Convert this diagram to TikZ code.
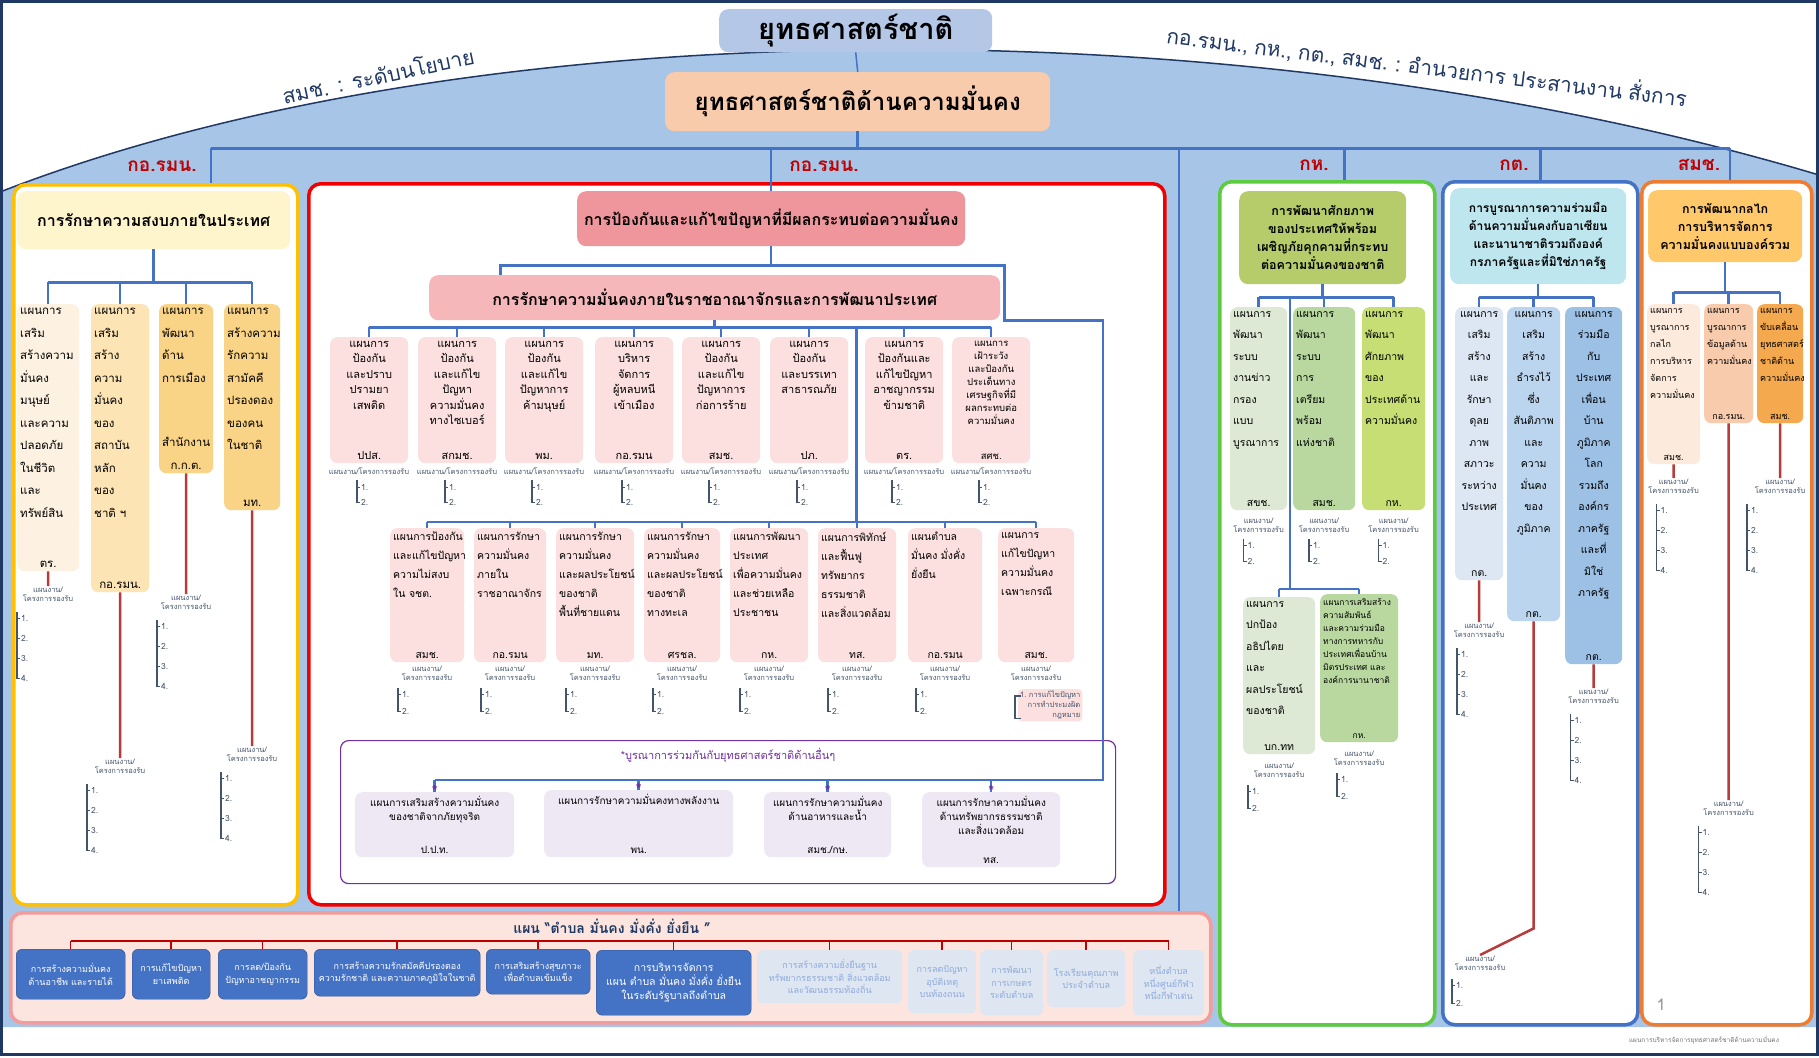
\documentclass[tikz,border=0pt]{standalone}
\usepackage{fontspec}
\setmainfont{Loma}[Script=Thai]
\definecolor{navy}{HTML}{203864}
\definecolor{dome}{HTML}{A7C5E7}
\definecolor{lineblue}{HTML}{4472C4}
\definecolor{stemred}{HTML}{B83B3B}
\definecolor{headred}{HTML}{C00000}
\definecolor{brkc}{HTML}{44546A}
\definecolor{gold}{HTML}{FFC000}
\definecolor{redf}{HTML}{F00000}
\definecolor{greenf}{HTML}{5DCB3E}
\definecolor{orangef}{HTML}{ED7D31}
\definecolor{purp}{HTML}{7030A0}
\definecolor{titlef}{HTML}{B4C7E7}
\definecolor{secf}{HTML}{F8CBAD}
\definecolor{yhd}{HTML}{FFF5CC}
\definecolor{ypale}{HTML}{FDF2E1}
\definecolor{ylight}{HTML}{FCE4B4}
\definecolor{ydeep}{HTML}{F9D386}
\definecolor{rtop}{HTML}{EE969B}
\definecolor{rmid}{HTML}{F5B7BA}
\definecolor{rbox}{HTML}{FBE0DF}
\definecolor{pbox}{HTML}{EEE8F5}
\definecolor{ghd}{HTML}{B6CC6A}
\definecolor{gpale}{HTML}{DDE9D5}
\definecolor{gmid}{HTML}{B8D8A0}
\definecolor{glime}{HTML}{C6DE74}
\definecolor{chd}{HTML}{BDE6EE}
\definecolor{cpale}{HTML}{DCE7F3}
\definecolor{cmid}{HTML}{BBD5EE}
\definecolor{cdeep}{HTML}{9DC0E5}
\definecolor{ohd}{HTML}{FFC86A}
\definecolor{opale}{HTML}{FCEADC}
\definecolor{omid}{HTML}{F8CBAD}
\definecolor{odeep}{HTML}{F5A94E}
\definecolor{bandf}{HTML}{FCE5DE}
\definecolor{bandd}{HTML}{F29C9C}
\definecolor{kblue}{HTML}{4472C4}
\definecolor{kpale}{HTML}{DDE6F1}
\definecolor{ktext}{HTML}{8FAADC}
\newcommand\pb[5][\centering]{\parbox[b][#3pt][s]{#2pt}{\vspace*{4pt}#1#4\par\vfill\centering#5\par\vspace*{4pt}}}
\newcommand\lft{\raggedright\leftskip=3pt\relax}
\newcommand\subone{แผนงาน/โครงการรองรับ}
\newcommand\subtwo{แผนงาน/\\โครงการรองรับ}
\begin{document}
\begin{tikzpicture}[x=1pt,y=-1pt,
  link/.style={draw=lineblue,line width=2.5pt},
  stem/.style={draw=stemred,line width=2.5pt},
  brk/.style={draw=brkc,line width=1.3pt},
  colbox/.style={rounded corners=12pt,line width=3.5pt,fill=white,anchor=north west,inner sep=0pt},
  hdr/.style={rounded corners=9pt,inner sep=1pt,align=center,anchor=north west},
  plan/.style={rounded corners=7pt,inner sep=0pt,anchor=north west},
  yplan/.style={plan,font=\fontsize{11.5}{22.5}\selectfont},
  rplan/.style={plan,fill=rbox,font=\fontsize{11}{15.5}\selectfont},
  splan/.style={plan,fill=rbox,font=\fontsize{10.5}{19}\selectfont},
  gplan/.style={plan,font=\fontsize{10.5}{21.5}\selectfont},
  cplan/.style={plan,font=\fontsize{10.5}{21.5}\selectfont},
  oplan/.style={plan,font=\fontsize{9}{17}\selectfont},
  pplan/.style={plan,fill=pbox,font=\fontsize{10}{14}\selectfont},
  tag/.style={text=headred,font=\bfseries\fontsize{19}{20}\selectfont},
  subhd/.style={anchor=north,align=center,inner sep=1pt,text=brkc,font=\fontsize{7.5}{9}\selectfont},
  item/.style={anchor=west,inner sep=1pt,text=brkc,font=\fontsize{8.5}{10}\selectfont},
  kbox/.style={rounded corners=6pt,anchor=north west,align=center,inner sep=1pt,font=\fontsize{9}{12.5}\selectfont}]
\useasboundingbox (0,0) rectangle (1819,1057);
\fill[white] (0,0) rectangle (1819,1057);
\fill[dome] (0,1027) -- (0,192) .. controls (480,5) and (1250,5) .. (1819,175) -- (1819,1027) -- cycle;
\draw[navy,line width=1.5pt] (0,192) .. controls (480,5) and (1250,5) .. (1819,175);
\draw[navy,line width=3pt] (1.5,1.5) rectangle (1817.5,1054);

\node[hdr,fill=titlef,minimum width=273pt,minimum height=43pt,font=\bfseries\fontsize{29}{30}\selectfont] (nat) at (719,9) {ยุทธศาสตร์ชาติ};
\node[hdr,fill=secf,minimum width=385pt,minimum height=59pt,font=\bfseries\fontsize{24}{26}\selectfont] (sec) at (665,72) {ยุทธศาสตร์ชาติด้านความมั่นคง};
\draw[link,line width=1.5pt] (nat.south) -- (sec.north);
\node[rotate=12,text=navy,font=\fontsize{21}{22}\selectfont] (pol) at (378,75) {สมช.\hspace{9pt}:\hspace{9pt}ระดับนโยบาย};
\node[rotate=-7,text=navy,font=\fontsize{21}{22}\selectfont] (cmd) at (1427,66) {กอ.รมน.,\hspace{6pt}กห.,\hspace{6pt}กต.,\hspace{6pt}สมช.\hspace{7pt}:\hspace{7pt}อำนวยการ\hspace{6pt}ประสานงาน\hspace{6pt}สั่งการ};

\node[colbox,draw=gold,minimum width=284pt,minimum height=720pt] (colY) at (12,183) {};
\node[colbox,draw=redf,minimum width=856pt,minimum height=721pt] (colR) at (307,182) {};
\node[colbox,draw=greenf,minimum width=215pt,minimum height=843pt] (colG) at (1218,180) {};
\node[colbox,draw=lineblue,minimum width=195pt,minimum height=843pt] (colB) at (1441,180) {};
\node[colbox,draw=orangef,minimum width=170pt,minimum height=843pt] (colO) at (1640,180) {};
\node[colbox,draw=bandd,fill=bandf,minimum width=1200pt,minimum height=110pt] (band) at (9,911) {};

\node[tag] (tY) at (162,166) {กอ.รมน.};
\node[tag] (tR) at (824,166) {กอ.รมน.};
\node[tag] (tG) at (1314,165) {กห.};
\node[tag] (tB) at (1514,165) {กต.};
\node[tag] (tO) at (1699,165) {สมช.};

% yellow
\node[hdr,fill=yhd,minimum width=273pt,minimum height=58pt,font=\bfseries\fontsize{16}{18}\selectfont] (hdY) at (17,191) {การรักษาความสงบภายในประเทศ};
\node[yplan,fill=ypale] (yb1) at (17,304) {\pb[\lft]{62}{267}{แผนการ\\เสริม\\สร้างความ\\มั่นคง\\มนุษย์\\และความ\\ปลอดภัย\\ในชีวิต\\และ\\ทรัพย์สิน}{ตร.}};
\node[yplan,fill=ylight] (yb2) at (91,304) {\pb[\lft]{58}{288}{แผนการ\\เสริม\\สร้าง\\ความ\\มั่นคง\\ของ\\สถาบัน\\หลัก\\ของ\\ชาติ ฯ}{กอ.รมน.}};
\node[yplan,fill=ydeep] (yb3) at (159,304) {\pb[\lft]{54}{169}{แผนการ\\พัฒนา\\ด้าน\\การเมือง}{สำนักงาน\\ก.ก.ต.}};
\node[yplan,fill=ydeep] (yb4) at (224,304) {\pb[\lft]{56}{206}{แผนการ\\สร้างความ\\รักความ\\สามัคคี\\ปรองดอง\\ของคน\\ในชาติ}{มท.}};
\draw[link] (hdY.south) -- ++(0,33) coordinate (y0);
\draw[link] (yb1.north |- y0) -- (yb4.north |- y0);
\foreach \i in {1,...,4} \draw[link] (yb\i.north |- y0) -- (yb\i.north);

% red
\node[hdr,fill=rtop,minimum width=388pt,minimum height=55pt,font=\bfseries\fontsize{16}{18}\selectfont] (topR) at (577,191) {การป้องกันและแก้ไขปัญหาที่มีผลกระทบต่อความมั่นคง};
\node[hdr,fill=rmid,minimum width=571pt,minimum height=45pt,font=\bfseries\fontsize{16}{18}\selectfont] (midR) at (429,275) {การรักษาความมั่นคงภายในราชอาณาจักรและการพัฒนาประเทศ};
\foreach \b/\x/\t/\a in {r1/330/{แผนการ\\ป้องกัน\\และปราบ\\ปรามยา\\เสพติด}/ปปส.,
  r2/418/{แผนการ\\ป้องกัน\\และแก้ไข\\ปัญหา\\ความมั่นคง\\ทางไซเบอร์}/สกมช.,
  r3/505/{แผนการ\\ป้องกัน\\และแก้ไข\\ปัญหาการ\\ค้ามนุษย์}/พม.,
  r4/595/{แผนการ\\บริหาร\\จัดการ\\ผู้หลบหนี\\เข้าเมือง}/กอ.รมน,
  r5/682/{แผนการ\\ป้องกัน\\และแก้ไข\\ปัญหาการ\\ก่อการร้าย}/สมช.,
  r6/770/{แผนการ\\ป้องกัน\\และบรรเทา\\สาธารณภัย}/ปภ.,
  r7/865/{แผนการ\\ป้องกันและ\\แก้ไขปัญหา\\อาชญากรรม\\ข้ามชาติ}/ตร.}
  \node[rplan] (\b) at (\x,337) {\pb{78}{126}{\t}{\a}};
\node[rplan,font=\fontsize{9.5}{13}\selectfont] (r8) at (952,337) {\pb{78}{126}{แผนการ\\เฝ้าระวัง\\และป้องกัน\\ประเด็นทาง\\เศรษฐกิจที่มี\\ผลกระทบต่อ\\ความมั่นคง}{สศช.}};
\foreach \b/\x/\w/\t/\a in {s1/390/74/{แผนการป้องกัน\\และแก้ไขปัญหา\\ความไม่สงบ\\ใน จชต.}/สมช.,
  s2/474/72/{แผนการรักษา\\ความมั่นคง\\ภายใน\\ราชอาณาจักร}/กอ.รมน,
  s3/556/78/{แผนการรักษา\\ความมั่นคง\\และผลประโยชน์\\ของชาติ\\พื้นที่ชายแดน}/มท.,
  s4/644/76/{แผนการรักษา\\ความมั่นคง\\และผลประโยชน์\\ของชาติ\\ทางทะเล}/ศรชล.,
  s5/730/78/{แผนการพัฒนา\\ประเทศ\\เพื่อความมั่นคง\\และช่วยเหลือ\\ประชาชน}/กห.,
  s6/818/78/{แผนการพิทักษ์\\และฟื้นฟู\\ทรัพยากร\\ธรรมชาติ\\และสิ่งแวดล้อม}/ทส.,
  s7/908/74/{แผนตำบล\\มั่นคง มั่งคั่ง\\ยั่งยืน}/กอ.รมน,
  s8/998/76/{แผนการ\\แก้ไขปัญหา\\ความมั่นคง\\เฉพาะกรณี}/สมช.}
  \node[splan] (\b) at (\x,528) {\pb[\lft]{\w}{134}{\t}{\a}};
\node[colbox,draw=purp,line width=1.2pt,rounded corners=8pt,minimum width=775pt,minimum height=143pt] (pur) at (340,740) {};
\node[text=purp,font=\fontsize{11}{13}\selectfont] (purT) at (728,755) {*บูรณาการร่วมกันกับยุทธศาสตร์ชาติด้านอื่นๆ};
\node[pplan] (p1) at (355,792) {\pb{159}{65}{แผนการเสริมสร้างความมั่นคง\\ของชาติจากภัยทุจริต}{ป.ป.ท.}};
\node[pplan] (p2) at (544,790) {\pb{189}{67}{แผนการรักษาความมั่นคงทางพลังงาน}{พน.}};
\node[pplan] (p3) at (764,792) {\pb{127}{65}{แผนการรักษาความมั่นคง\\ด้านอาหารและน้ำ}{สมช./กษ.}};
\node[pplan] (p4) at (922,792) {\pb{138}{75}{แผนการรักษาความมั่นคง\\ด้านทรัพยากรธรรมชาติ\\และสิ่งแวดล้อม}{ทส.}};
\draw[link] (topR.south) -- ++(0,19) coordinate (tb);
\coordinate (pj) at (1103,780);
\draw[link] ([xshift=-214pt]midR.north) |- (tb) -| ([xshift=4pt]midR.south east) -| (pj) -- (pj -| p1.north);
\foreach \i in {1,...,4} {
  \draw[link] (pj -| p\i.north) -- (p\i.north);
  \node[text=purp,inner sep=0pt,font=\bfseries\fontsize{15}{15}\selectfont] (ast\i) at ([yshift=1pt]p\i.north) {*};
}
\draw[link] (midR.south) -- ++(0,7) coordinate (r0);
\draw[link] (r1.north |- r0) -- (r8.north |- r0);
\foreach \i in {1,...,8} \draw[link] (r\i.north |- r0) -- (r\i.north);
\path (r6.north east) -- (r7.north west) coordinate[pos=.5] (rv);
\path (s1.north) ++(0,-6) coordinate (s0);
\draw[link] (rv |- r0) -- (rv |- s0);
\draw[link] (s1.north |- s0) -- (s8.north |- s0);
\foreach \i in {1,...,8} \draw[link] (s\i.north |- s0) -- (s\i.north);

% green
\node[hdr,fill=ghd,minimum width=167pt,minimum height=93pt,font=\bfseries\fontsize{12.5}{18}\selectfont] (gH) at (1239,191) {การพัฒนาศักยภาพ\\ของประเทศให้พร้อม\\เผชิญภัยคุกคามที่กระทบ\\ต่อความมั่นคงของชาติ};
\node[gplan,fill=gpale] (g1) at (1230,307) {\pb[\lft]{57}{203}{แผนการ\\พัฒนา\\ระบบ\\งานข่าว\\กรอง\\แบบ\\บูรณาการ}{สขช.}};
\node[gplan,fill=gmid] (g2) at (1293,307) {\pb[\lft]{62}{203}{แผนการ\\พัฒนา\\ระบบ\\การ\\เตรียม\\พร้อม\\แห่งชาติ}{สมช.}};
\node[gplan,fill=glime] (g3) at (1362,307) {\pb[\lft]{63}{203}{แผนการ\\พัฒนา\\ศักยภาพ\\ของ\\ประเทศด้าน\\ความมั่นคง}{กห.}};
\node[gplan,fill=gpale] (g4) at (1243,597) {\pb[\lft]{72}{157}{แผนการ\\ปกป้อง\\อธิปไตย\\และ\\ผลประโยชน์\\ของชาติ}{บก.ทท}};
\node[gplan,fill=gmid,font=\fontsize{8.5}{13}\selectfont] (g5) at (1320,594) {\pb[\lft]{78}{148}{แผนการเสริมสร้าง\\ความสัมพันธ์\\และความร่วมมือ\\ทางการทหารกับ\\ประเทศเพื่อนบ้าน\\มิตรประเทศ และ\\องค์การนานาชาติ}{กห.}};
\draw[link] (gH.south) -- ++(0,13) coordinate (g0);
\draw[link] (g1.north |- g0) -- (g3.north |- g0);
\foreach \i in {1,2,3} \draw[link] (g\i.north |- g0) -- (g\i.north);
\path (g1.north east) -- (g2.north west) coordinate[pos=.5] (gv);
\path (g5.north) ++(0,-5) coordinate (g9);
\draw[link] (gv |- g0) -- (gv |- g9);
\draw[link] (g4.north |- g9) -- (g5.north |- g9);
\foreach \i in {4,5} \draw[link] (g\i.north |- g9) -- (g\i.north);

% blue
\node[hdr,fill=chd,minimum width=176pt,minimum height=96pt,font=\bfseries\fontsize{12}{18}\selectfont] (cH) at (1450,188) {การบูรณาการความร่วมมือ\\ด้านความมั่นคงกับอาเซียน\\และนานาชาติรวมถึงองค์\\กรภาครัฐและที่มิใช่ภาครัฐ};
\node[cplan,fill=cpale] (c1) at (1455,307) {\pb{48}{273}{แผนการ\\เสริม\\สร้าง\\และ\\รักษา\\ดุลย\\ภาพ\\สภาวะ\\ระหว่าง\\ประเทศ}{กต.}};
\node[cplan,fill=cmid] (c2) at (1507,307) {\pb{53}{314}{แผนการ\\เสริม\\สร้าง\\ธำรงไว้\\ซึ่ง\\สันติภาพ\\และ\\ความ\\มั่นคง\\ของ\\ภูมิภาค}{กต.}};
\node[cplan,fill=cdeep] (c3) at (1565,307) {\pb{57}{357}{แผนการ\\ร่วมมือ\\กับ\\ประเทศ\\เพื่อน\\บ้าน\\ภูมิภาค\\โลก\\รวมถึง\\องค์กร\\ภาครัฐ\\และที่\\มิใช่\\ภาครัฐ}{กต.}};
\draw[link] (cH.south) -- ++(0,13) coordinate (c0);
\draw[link] (c1.north |- c0) -- (c3.north |- c0);
\foreach \i in {1,2,3} \draw[link] (c\i.north |- c0) -- (c\i.north);

% orange
\node[hdr,fill=ohd,minimum width=154pt,minimum height=72pt,font=\bfseries\fontsize{12.5}{18}\selectfont] (oH) at (1648,190) {การพัฒนากลไก\\การบริหารจัดการ\\ความมั่นคงแบบองค์รวม};
\node[oplan,fill=opale] (o1) at (1647,304) {\pb[\lft]{53}{160}{แผนการ\\บูรณาการ\\กลไก\\การบริหาร\\จัดการ\\ความมั่นคง}{สมช.}};
\node[oplan,fill=omid] (o2) at (1704,304) {\pb[\lft]{49}{119}{แผนการ\\บูรณาการ\\ข้อมูลด้าน\\ความมั่นคง}{กอ.รมน.}};
\node[oplan,fill=odeep] (o3) at (1757,304) {\pb[\lft]{46}{119}{แผนการ\\ขับเคลื่อน\\ยุทธศาสตร์\\ชาติด้าน\\ความมั่นคง}{สมช.}};
\draw[link] (oH.south) -- ++(0,30) coordinate (o0);
\draw[link] (o1.north |- o0) -- (o3.north |- o0);
\foreach \i in {1,2,3} \draw[link] (o\i.north |- o0) -- (o\i.north);

% main bar
\draw[link] (sec.south) -- ++(0,17) coordinate (mb);
\path ([xshift=55pt]colY.north) coordinate (jY) ([xshift=568pt]band.north) coordinate (jL)
  ([xshift=17pt]colG.north) coordinate (jG) (colB.north) coordinate (jB) ([xshift=3pt]colO.north) coordinate (jO);
\draw[link] (jY |- mb) -- (jO |- mb);
\foreach \j in {jY,jL,jG,jB,jO} \draw[link] (\j |- mb) -- (\j);
\draw[link] (topR.north |- mb) -- (topR.north);

% sub lists
\foreach \s/\x/\y/\n/\g/\o/\h in {yl1/48/586/4/20/28/\subtwo, yl2/120/758/4/20/30/\subtwo,
  yl3/186/594/4/20/26/\subtwo, yl4/252/746/4/20/28/\subtwo,
  r1l/369/467/2/15/9/\subone, r2l/457/467/2/15/9/\subone, r3l/544/467/2/15/9/\subone, r4l/634/467/2/15/9/\subone,
  r5l/721/467/2/15/9/\subone, r6l/809/467/2/15/9/\subone, r7l/904/467/2/15/9/\subone, r8l/991/467/2/15/9/\subone,
  s1l/427/665/2/17/26/\subtwo, s2l/510/665/2/17/26/\subtwo, s3l/595/665/2/17/26/\subtwo, s4l/682/665/2/17/26/\subtwo,
  s5l/769/665/2/17/26/\subtwo, s6l/857/665/2/17/26/\subtwo, s7l/945/665/2/17/26/\subtwo,
  g1l/1258.5/517/2/16/12/\subtwo, g2l/1324/517/2/16/12/\subtwo, g3l/1393.5/517/2/16/12/\subtwo,
  g4l/1279/762/2/17/28/\subtwo, g5l/1359/750/2/17/19/\subtwo,
  c1l/1479/622/4/20/19/\subtwo, c2l/1480/955/2/18/25/\subtwo, c3l/1593.5/688/4/20/20/\subtwo,
  o1l/1673.5/478/4/20/14/\subtwo, o2l/1728.5/800/4/20/27/\subtwo, o3l/1780/478/4/20/30/\subtwo}{
  \node[subhd] (\s) at (\x,\y) {\h};
  \foreach \i in {1,...,\n}
    \node[item] (\s-\i) at ([xshift={-\o*1pt},yshift={(4-\i*\g)*1pt}]\s.south) {\i.};
  \draw[brk] ([xshift=-3pt,yshift=7pt]\s-1.west) |- (\s-\n.west);
  \foreach \i in {1,...,\n} \draw[brk] ([xshift=-3pt]\s-\i.west) -- (\s-\i.west);
}
\node[subhd] (s8l) at (1036,665) {\subtwo};
\node[item,fill=rbox,rounded corners=4pt,align=right,anchor=north west,inner sep=2pt,font=\fontsize{7.5}{10}\selectfont] (s8l-1) at (1018,689) {1.~การแก้ไขปัญหา\\การทำประมงผิด\\กฎหมาย};
\draw[brk] ([xshift=3pt,yshift=-7pt]s8l-1.north west) -- ++(-6,0) |- ([xshift=3pt,yshift=3pt]s8l-1.south west);
\foreach \b/\l in {yb1/yl1,yb2/yl2,yb3/yl3,yb4/yl4,c1/c1l,c3/c3l,o1/o1l,o2/o2l,o3/o3l}
  \draw[stem] (\b.south) -- (\l.north);
\draw[stem] (c2.south) -- ++(0,307) -- (c2l.north);

% band
\foreach \k/\x/\w/\h/\t in {k1/16/109/50/{การสร้างความมั่นคง\\ด้านอาชีพ และรายได้},
  k2/132/78/50/{การแก้ไขปัญหา\\ยาเสพติด},
  k3/218/89/50/{การลด/ป้องกัน\\ปัญหาอาชญากรรม},
  k4/314/166/47/{การสร้างความรักสมัคคีปรองดอง\\ความรักชาติ และความภาคภูมิใจในชาติ},
  k5/486/104/45/{การเสริมสร้างสุขภาวะ\\เพื่อตำบลเข้มแข็ง}}
  \node[kbox,fill=kblue,draw=kblue!70!black,text=white,minimum width=\w pt,minimum height=\h pt] (\k) at (\x,949) {\t};
\node[kbox,fill=kblue,draw=kblue!70!black,text=white,minimum width=155pt,minimum height=65pt,font=\fontsize{10.5}{14}\selectfont] (k6) at (596,950) {การบริหารจัดการ\\แผน ตำบล มั่นคง มั่งคั่ง ยั่งยืน\\ในระดับรัฐบาลถึงตำบล};
\foreach \k/\x/\w/\h/\t in {k7/757/145/53/{การสร้างความยั่งยืนฐาน\\ทรัพยากรธรรมชาติ สิ่งแวดล้อม\\และวัฒนธรรมท้องถิ่น},
  k8/908/68/63/{การลดปัญหา\\อุบัติเหตุ\\บนท้องถนน},
  k9/980/63/65/{การพัฒนา\\การเกษตร\\ระดับตำบล},
  k10/1047/78/57/{โรงเรียนคุณภาพ\\ประจำตำบล},
  k11/1133/71/65/{หนึ่งตำบล\\หนึ่งศูนย์กีฬา\\หนึ่งกีฬาเด่น}}
  \node[kbox,fill=kpale,text=ktext,minimum width=\w pt,minimum height=\h pt] (\k) at (\x,950) {\t};
\node[text=navy,font=\bfseries\fontsize{14}{16}\selectfont] (bandT) at (612,926) {แผน “ตำบล มั่นคง มั่งคั่ง ยั่งยืน ”};
\path (bandT) ++(0,15) coordinate (kb);
\draw[headred,line width=1.5pt] (k1.north |- kb) -- (k11.north |- kb);
\foreach \i in {1,...,11} \draw[headred,line width=1.5pt] (k\i.north |- kb) -- (k\i.north);

\node[text=black!40,font=\fontsize{16}{18}\selectfont] (pg) at (1661,1005) {1};
\node[text=black!55,font=\fontsize{6.5}{8}\selectfont] (foot) at (1704,1040) {แผนการบริหารจัดการยุทธศาสตร์ชาติด้านความมั่นคง};
\end{tikzpicture}
\end{document}
